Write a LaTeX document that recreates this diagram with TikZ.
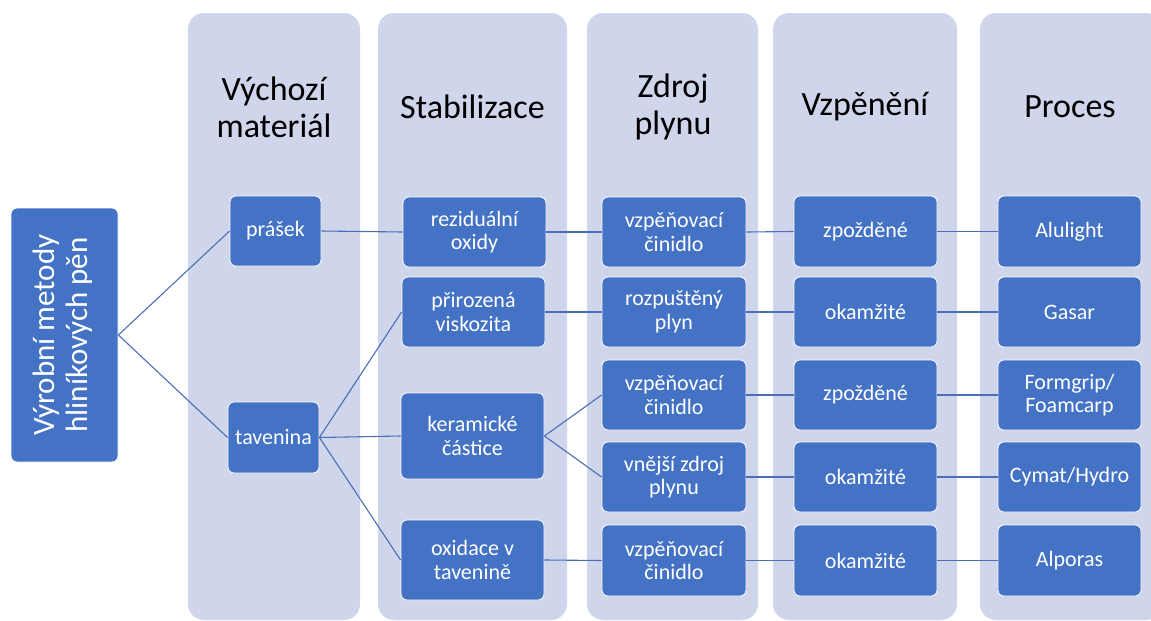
\documentclass[tikz,border=0pt]{standalone}
\usepackage{fontspec}
\usepackage{graphicx}
\setmainfont{Carlito}
\definecolor{boxblue}{HTML}{4472C4}
\definecolor{linkblue}{HTML}{4A6FB8}
\definecolor{colbg}{HTML}{CFD5EA}
\begin{document}
\begin{tikzpicture}[x=1pt,y=-1pt,
  colbox/.style={fill=colbg, draw=none, rounded corners=16pt},
  bbox/.style={fill=boxblue, draw=white, line width=0.8pt, rounded corners=6pt,
    text=white, align=center, font=\fontsize{22}{23.5}\selectfont, inner sep=0pt,
    minimum width=143pt, minimum height=70pt},
  head/.style={align=center, font=\fontsize{34}{37}\selectfont, text=black, inner sep=0pt},
  link/.style={draw=linkblue, line width=1.1pt}]
\useasboundingbox (0,0) rectangle (1151,621);
% column backgrounds
\path[colbox] (188,13) rectangle (360,620);
\path[colbox] (378,13) rectangle (567,620);
\path[colbox] (587,13) rectangle (758,620);
\path[colbox] (773,13) rectangle (957,620);
\path[colbox] (980,13) rectangle (1162,620);
% headers
\node[head] (h1) at (274,107) {Výchozí\\materiál};
\node[head] (h2) at (472.5,107) {Stabilizace};
\node[head] (h3) at (673,107) {Zdroj\\plynu};
\node[head] (h4) at (865,107) {Vzpěnění};
\node[head] (h5) at (1070,107) {Proces};
% root
\node[bbox, minimum width=107pt, minimum height=254pt, font=\fontsize{31}{33}\selectfont]
  (root) at (64.5,335) {\rotatebox{90}{\begin{tabular}{@{}c@{}}Výrobní metody\\hliníkových pěn\end{tabular}}};
% column 1
\node[bbox, minimum width=91pt] (prasek) at (275.5,231) {prášek};
\node[bbox, minimum width=91pt, minimum height=71pt] (tav) at (273.5,437.5) {tavenina};
% column 2
\node[bbox] (rez) at (474.5,232) {reziduální\\oxidy};
\node[bbox] (prir) at (473.5,312) {přirozená\\viskozita};
\node[bbox, minimum height=86pt] (ker) at (472.5,436) {keramické\\částice};
\node[bbox, minimum height=80pt] (oxi) at (472.5,560) {oxidace v\\tavenině};
% column 3
\node[bbox, minimum width=144pt] (z1) at (674,232) {vzpěňovací\\činidlo};
\node[bbox, minimum width=144pt] (z2) at (674,312) {rozpuštěný\\plyn};
\node[bbox, minimum width=144pt] (z3) at (674,395) {vzpěňovací\\činidlo};
\node[bbox, minimum width=144pt] (z4) at (674,477) {vnější zdroj\\plynu};
\node[bbox, minimum width=144pt, minimum height=71pt] (z5) at (674,560.5) {vzpěňovací\\činidlo};
% column 4
\node[bbox, minimum height=71pt] (v1) at (865.5,231.5) {zpožděné};
\node[bbox] (v2) at (865.5,312) {okamžité};
\node[bbox] (v3) at (865.5,395) {zpožděné};
\node[bbox] (v4) at (865.5,477) {okamžité};
\node[bbox, minimum height=71pt] (v5) at (865.5,560.5) {okamžité};
% column 5
\node[bbox, minimum height=71pt] (p1) at (1069.5,231.5) {Alulight};
\node[bbox] (p2) at (1069.5,312) {Gasar};
\node[bbox] (p3) at (1069.5,395) {Formgrip/\\Foamcarp};
\node[bbox] (p4) at (1069.5,477) {Cymat/Hydro};
\node[bbox, minimum height=71pt] (p5) at (1069.5,560.5) {Alporas};
% connectors
\draw[link] (root.east) -- (prasek.west);
\draw[link] (root.east) -- (tav.west);
\draw[link] (prasek.east) -- (rez.west);
\draw[link] (tav.east) -- (prir.west);
\draw[link] (tav.east) -- (ker.west);
\draw[link] (tav.east) -- (oxi.west);
\draw[link] (rez.east) -- (z1.west);
\draw[link] (prir.east) -- (z2.west);
\draw[link] (ker.east) -- (z3.west);
\draw[link] (ker.east) -- (z4.west);
\draw[link] (oxi.east) -- (z5.west);
\draw[link] (z1.east) -- (v1.west);
\draw[link] (z2.east) -- (v2.west);
\draw[link] (z3.east) -- (v3.west);
\draw[link] (z4.east) -- (v4.west);
\draw[link] (z5.east) -- (v5.west);
\draw[link] (v1.east) -- (p1.west);
\draw[link] (v2.east) -- (p2.west);
\draw[link] (v3.east) -- (p3.west);
\draw[link] (v4.east) -- (p4.west);
\draw[link] (v5.east) -- (p5.west);
\end{tikzpicture}
\end{document}
